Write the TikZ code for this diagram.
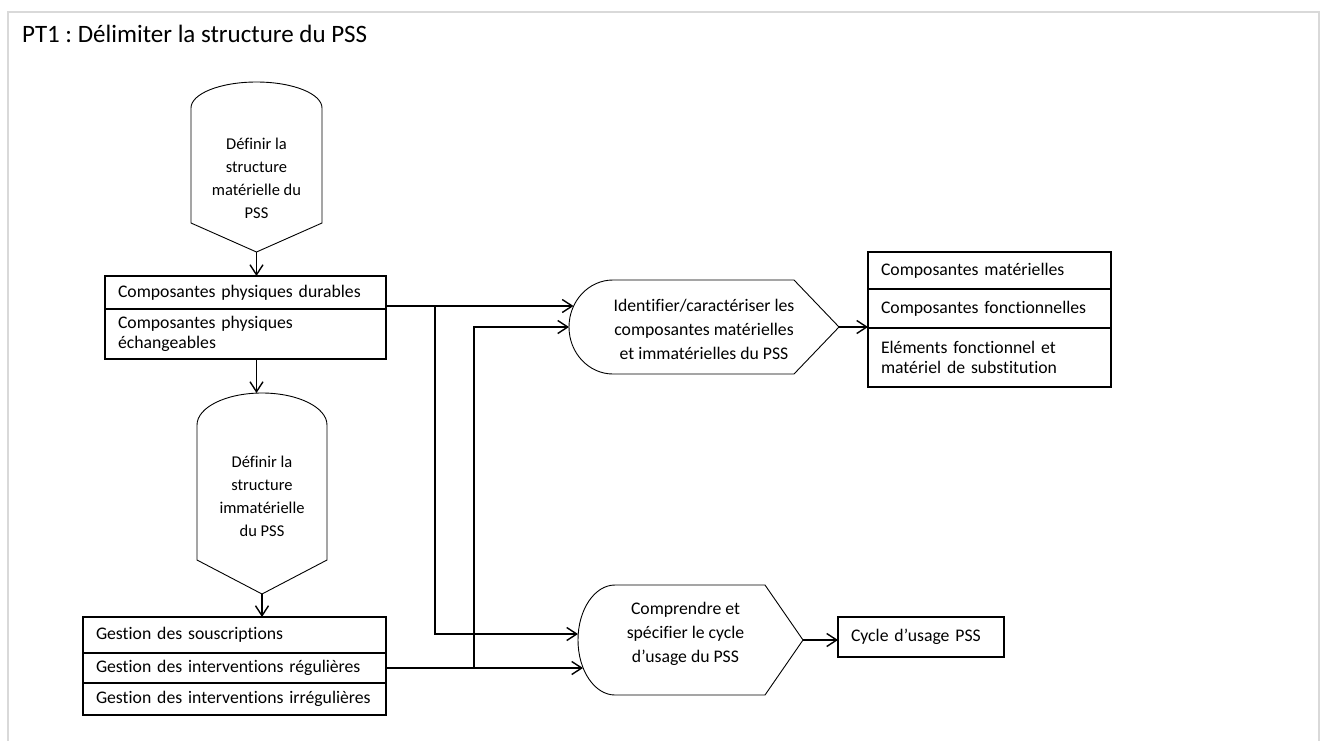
\documentclass[tikz,border=0pt]{standalone}
\usepackage{fontspec}
\setmainfont{Carlito}[Ligatures=NoCommon]
\frenchspacing
\usepackage{tikz}
\usetikzlibrary{
  arrows.meta,
  positioning,
  calc
}
\newcommand{\titlefont}{\fontsize{25pt}{29pt}\selectfont}
\newcommand{\cellfont}{\fontsize{17.7pt}{20.5pt}\selectfont}
\newcommand{\procfont}{\fontsize{17.7pt}{24pt}\selectfont}
\newcommand{\stepfont}{\fontsize{16.5pt}{23pt}\selectfont}
% display shape on its side: round left end, point on the right
\newcommand{\hdisplay}[4]{%
  \draw[shapeline] ([xshift=#2]#1.north west) -- ([xshift=-#3]#1.north east)
    -- (#1.east) -- ([xshift=-#3]#1.south east) -- ([xshift=#2]#1.south west)
    arc[start angle=270, end angle=90, x radius=#2, y radius=#4] -- cycle;}
% display shape standing up: round top, point below
\newcommand{\vdisplay}[4]{%
  \draw[shapeline] ([yshift=-#2]#1.north east) -- ([yshift=#3]#1.south east)
    -- (#1.south) -- ([yshift=#3]#1.south west) -- ([yshift=-#2]#1.north west)
    arc[start angle=180, end angle=0, x radius=#4, y radius=#2] -- cycle;}

\begin{document}
\begin{tikzpicture}[
  x=1pt, y=-1pt,
  frameline/.style={
    draw=black!15,
    line width=1.5pt
  },
  shapeline/.style={
    draw=black,
    line width=0.9pt
  },
  shapebox/.style={
    draw=none,
    inner sep=0pt,
    outer sep=0pt
  },
  rowbox/.style={
    draw=black,
    line width=1.1pt,
    outer sep=0pt,
    inner xsep=13pt,
    inner ysep=0pt,
    align=left,
    font=\cellfont,
    text width=#1
  },
  wire/.style={
    draw=black,
    line width=1.4pt
  },
  arr/.style={
    wire,
    -{Straight Barb[length=10pt, width=13pt]}
  }
]
\useasboundingbox (0,0) rectangle (1323,740);
\draw[frameline] (8,741) -- (8,12) -- (1319,12) -- (1319,741);

\node[anchor=base west, font=\titlefont, inner sep=0pt] (title) at (22,42) {PT1 : Délimiter la structure du PSS};

% left column
\node[shapebox, minimum width=131pt, minimum height=170pt] (defmat) at (256.5,167) {};
\vdisplay{defmat}{26pt}{29pt}{65.5pt}
\node[font=\stepfont, align=center] (defmat-txt) at ([yshift=-11pt]defmat.center) {Définir la\\structure\\matérielle du\\PSS};

\node[rowbox=255pt, minimum height=33pt, anchor=north west] (durab) at (105,276) {Composantes physiques durables};
\node[rowbox=255pt, minimum height=50pt, below=0pt of durab] (echang) {Composantes physiques\\échangeables};

\node[shapebox, minimum width=130pt, minimum height=201pt] (defimm) at (262,493.5) {};
\vdisplay{defimm}{32pt}{34pt}{65pt}
\node[font=\stepfont, align=center] (defimm-txt) at ([yshift=-3pt]defimm.center) {Définir la\\structure\\immatérielle\\du PSS};

\node[rowbox=277pt, minimum height=36pt, anchor=north west] (souscr) at (83,617) {Gestion des souscriptions};
\node[rowbox=277pt, minimum height=30pt, below=0pt of souscr] (regul) {Gestion des interventions régulières};
\node[rowbox=277pt, minimum height=32pt, below=0pt of regul] (irregul) {Gestion des interventions irrégulières};

% middle column
\node[shapebox, minimum width=270pt, minimum height=94pt] (idA) at (704,327) {};
\hdisplay{idA}{44pt}{45pt}{47pt}
\node[font=\procfont, align=center] (idA-txt) at ([yshift=-2pt]idA.center) {Identifier/caractériser les\\composantes matérielles\\et immatérielles du PSS};

\node[shapebox, minimum width=225pt, minimum height=110pt] (cycB) at (690.5,640) {};
\hdisplay{cycB}{37pt}{38pt}{55pt}
\node[font=\procfont, align=center] (cycB-txt) at ([xshift=-5pt, yshift=6pt]cycB.center) {Comprendre et\\spécifier le cycle\\d’usage du PSS};

% right column
\node[rowbox=217pt, minimum height=37pt, anchor=north west] (compmat) at (868,252) {Composantes matérielles};
\node[rowbox=217pt, minimum height=39pt, below=0pt of compmat] (compfct) {Composantes fonctionnelles};
\node[rowbox=217pt, minimum height=59pt, below=0pt of compfct] (substit) {Eléments fonctionnel et\\matériel de substitution};
\node[rowbox=140pt, minimum height=40pt, anchor=north west] (cycleD) at (838,617) {Cycle d’usage PSS};

% connectors
\coordinate (busA) at (435,0);
\coordinate (busB) at (474,0);
\coordinate (outA) at ([yshift=3pt]durab.south east);

\draw[arr] (defmat.south) -- (defmat.south |- durab.north);
\draw[arr] (defmat.south |- echang.south) -- (defmat.south |- defimm.north);
\draw[arr] (defimm.south) -- (defimm.south |- souscr.north);
\draw[arr] (outA) -- ([xshift=4.5pt]idA.west |- outA);
\draw[arr] (busA |- outA) |- ([yshift=6pt]cycB.west);
\draw[arr] (regul.east) -- ([xshift=5pt]cycB.west |- regul.east);
\draw[arr] (busB |- regul.east) |- (idA.west);
\draw[arr] (idA.east) -- (idA.east -| compmat.west);
\draw[arr] (cycB.east) -- (cycB.east -| cycleD.west);
\end{tikzpicture}
\end{document}
